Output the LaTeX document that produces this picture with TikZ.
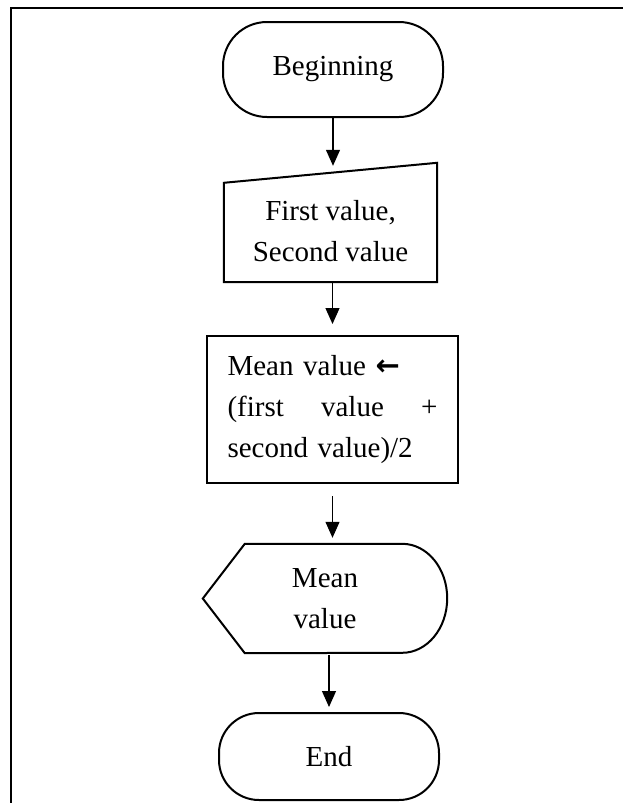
\documentclass[tikz,border=0pt]{standalone}
\usepackage{fontspec}
\setmainfont{Liberation Serif}
\newfontfamily\arrowfont{DejaVu Sans}
\usetikzlibrary{arrows.meta}

\tikzset{
  term/.style={draw, line width=2pt, rounded corners=44pt, minimum width=220pt, minimum height=95pt},
  outline/.style={draw, line width=2pt, line join=miter},
  flowline/.style={line width=1.2pt, -{Triangle[length=16pt,width=14pt]}},
}

\begin{document}
\begin{tikzpicture}[x=1pt, y=-1pt, font=\fontsize{29pt}{41pt}\selectfont]
\useasboundingbox (0,0) rectangle (623,803);
\draw[line width=2.2pt] (11,803) -- (11,8) -- (623,8);

\node[term] (begin) at (333,69.5) {Beginning};
\node[minimum width=213pt, minimum height=102pt, inner sep=0pt, align=center] (input) at (330.5,231) {First value,\\Second value};
\node[draw, line width=2pt, minimum height=147pt, text width=210pt, inner xsep=20.5pt, align=left] (calc) at (332.5,409.5) {Mean value {\arrowfont\bfseries ←}\\(first\hfill value\hfill +\\second value)/2};
\node[minimum width=244pt, minimum height=109pt, inner sep=0pt, align=center] (out) at (325,598.5) {Mean\\value};
\node[term, minimum height=87pt, rounded corners=40pt] (end) at (329,756.5) {End};

\path[outline] ([yshift=-3pt]input.north west) -- ([yshift=17pt]input.north east) -- (input.south east) -- (input.south west) -- cycle;
\path[outline] (out.west) -- ([xshift=42pt]out.north west) -- ([xshift=-45pt]out.north east) arc[start angle=90, end angle=-90, x radius=45pt, y radius=54.5pt] -- ([xshift=42pt]out.south west) -- cycle;

\path[draw, flowline] (begin.south) -- ([yshift=14pt]begin.south |- input.north);
\path[draw, flowline] (input.south -| calc.north) -- ([yshift=11pt]calc.north);
\path[draw, flowline] ([yshift=-12pt]calc.south) -- ([yshift=6pt]calc.south |- out.north);
\path[draw, flowline] ([yshift=-2pt]end.north |- out.south) -- ([yshift=5pt]end.north);
\end{tikzpicture}
\end{document}
